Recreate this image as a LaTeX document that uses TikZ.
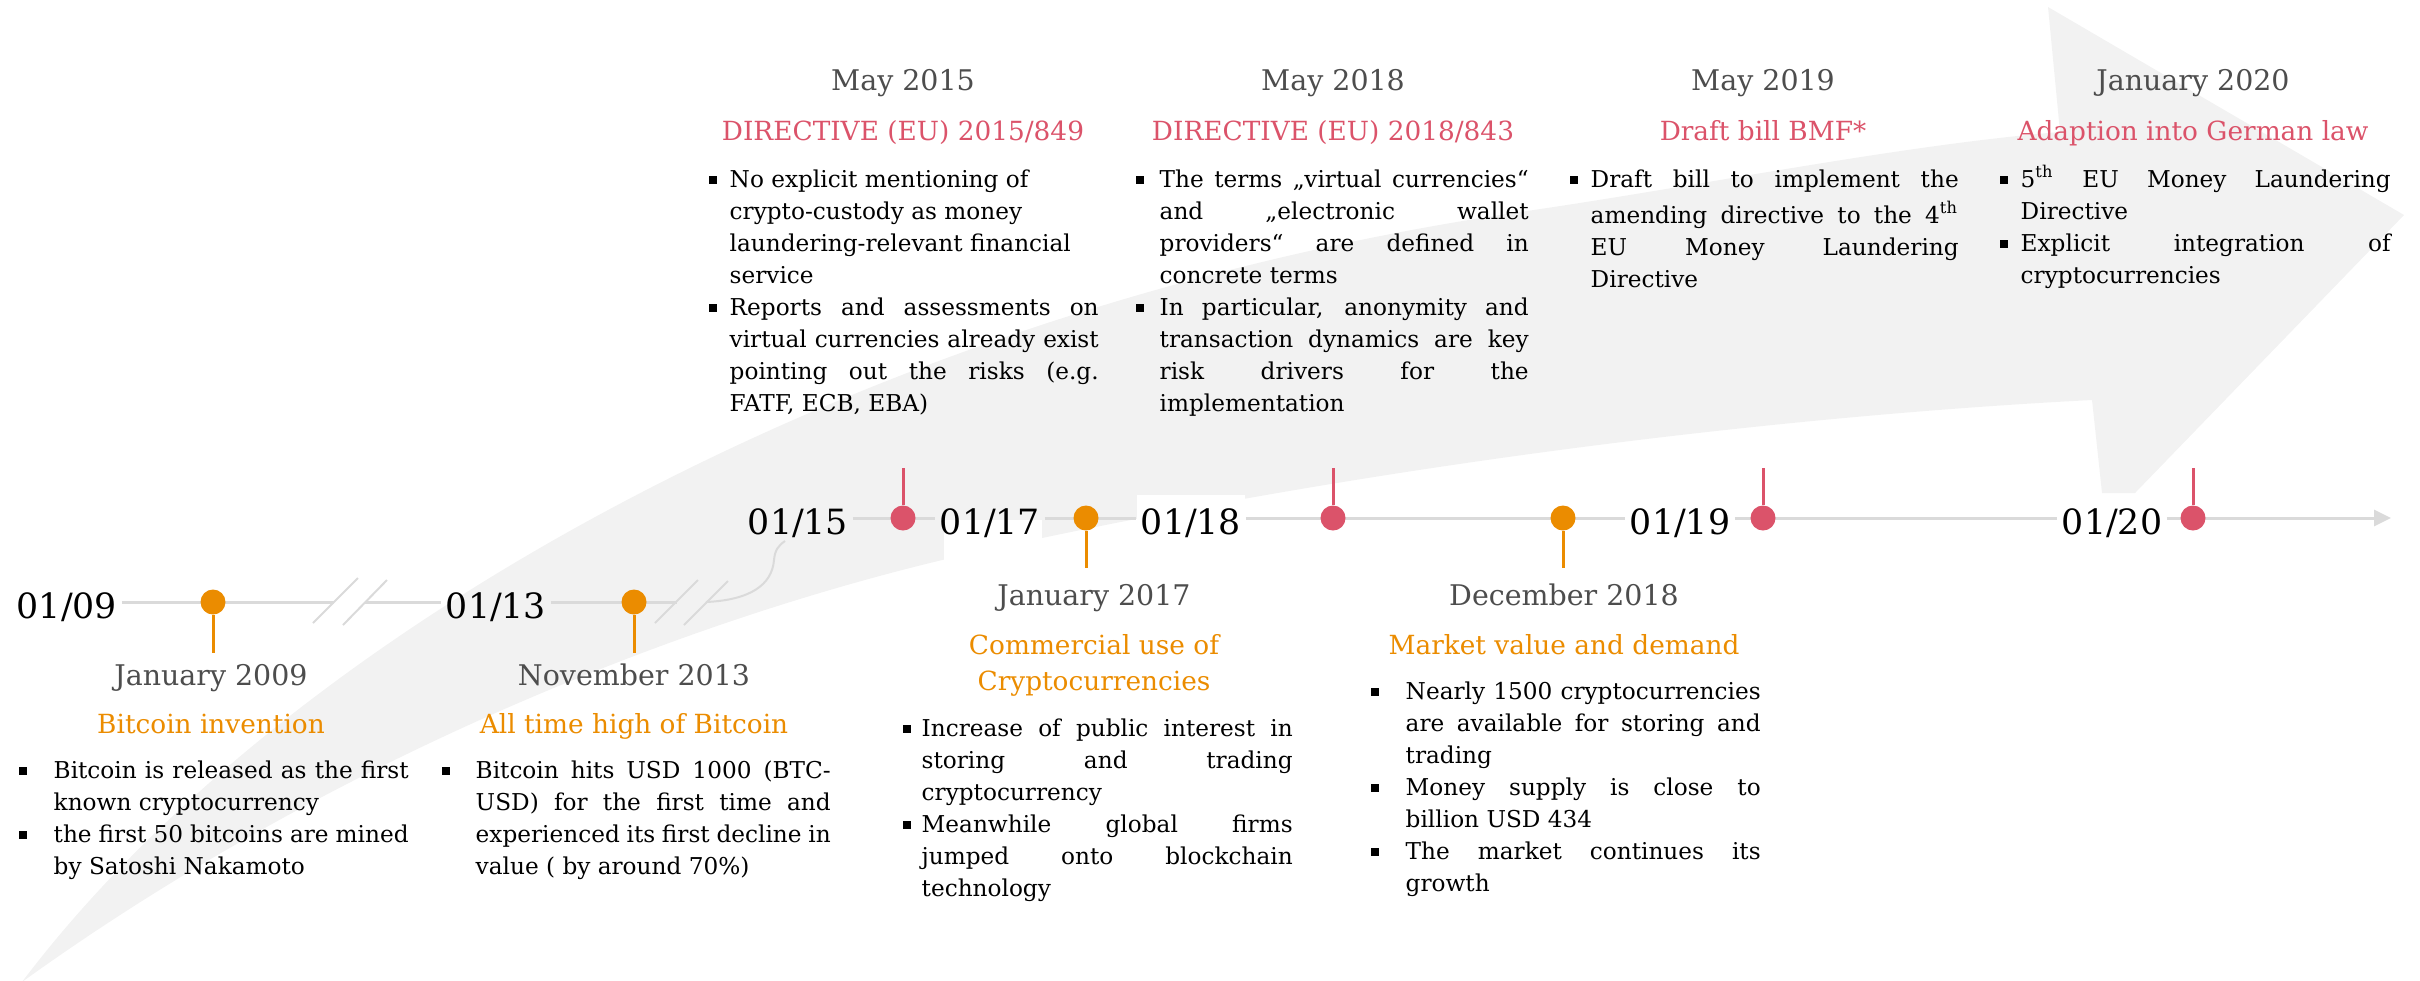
\documentclass[tikz,border=0pt]{standalone}
\usepackage{fontspec}
\setmainfont{DejaVu Serif}
\usetikzlibrary{arrows.meta}

\definecolor{pwcorange}{HTML}{EB8C00}
\definecolor{pwcrose}{HTML}{DB536A}
\definecolor{dategrey}{HTML}{4D4D4D}
\definecolor{axisgrey}{HTML}{DADADA}
\definecolor{sweepgrey}{HTML}{F2F2F2}

% square bullet and one bullet point with hanging indent
\newlength{\factgap}
\newcommand{\sqbullet}{\raisebox{1.1pt}{\rule{2.3pt}{2.3pt}}}
\newcommand{\fact}{\par\noindent\hangindent=\factgap\hangafter=1\makebox[\factgap][l]{\sqbullet}\strut}

\tikzset{
  axis/.style={draw=axisgrey, line width=0.3mm},
  brk/.style={draw=axisgrey, line width=0.2mm},
  yearlbl/.style={font=\fontsize{9.9pt}{12pt}\selectfont, text height=3.9mm, text depth=0.7mm,
    inner xsep=0.4mm, inner ysep=0pt, anchor=center},
  odot/.style={circle, fill=pwcorange, inner sep=0pt, minimum size=2.5mm},
  rdot/.style={circle, fill=pwcrose, inner sep=0pt, minimum size=2.5mm},
  ostem/.style={draw=pwcorange, line width=0.3mm},
  rstem/.style={draw=pwcrose, line width=0.3mm},
  when/.style={anchor=base, text=dategrey, inner sep=0pt, font=\fontsize{8.1pt}{10pt}\selectfont},
  otitle/.style={anchor=base, text=pwcorange, inner sep=0pt, align=center, font=\fontsize{7.5pt}{10.2pt}\selectfont},
  rtitle/.style={otitle, text=pwcrose},
  facts/.style 2 args={anchor=north west, inner sep=0pt, text width=#1, align=justify,
    font=\fontsize{6.6pt}{9.1pt}\selectfont,
    execute at begin node={\setlength{\factgap}{#2}\hyphenpenalty=10000 \tolerance=10000 }}
}

\begin{document}
\begin{tikzpicture}[x=0.1mm, y=-0.1mm]

    \useasboundingbox (0,0) rectangle (2420,980);

    %% Background sweep arrow
    \fill[sweepgrey] (22,982) .. controls (280,640) and (850,310) .. (1520,212)
        .. controls (1700,186) and (1900,145) .. (2060,132)
        -- (2048,7) -- (2404,215) -- (2135,493) -- (2102,493) -- (2092,400)
        .. controls (1800,415) and (1400,460) .. (1000,547)
        .. controls (700,610) and (330,760) .. (22,982) -- cycle;
    \fill[white] (944,520) rectangle (1042,560);

    %% Year labels
    \node[yearlbl] (y09) at (67,602) {01/09};
    \node[yearlbl] (y13) at (496,602) {01/13};
    \node[yearlbl] (y15) at (798,518) {01/15};
    \node[yearlbl] (y17) at (990,518) {01/17};
    \node[yearlbl, fill=white] (y18) at (1191,518) {01/18};
    \node[yearlbl] (y19) at (1680,518) {01/19};
    \node[yearlbl] (y20) at (2112,518) {01/20};

    %% Lower axis with breaks
    \coordinate (cut1) at (334,602);
    \coordinate (cut2) at (365,602);
    \coordinate (cut3) at (677,602);
    \coordinate (cut4) at (706,602);
    \coordinate (up15) at (785,541);
    \draw[axis] (y09) -- (cut1);
    \draw[axis] (cut2) -- (y13);
    \draw[axis] (y13) -- (cut3);
    \draw[brk] (313,623) -- (358,578);
    \draw[brk] (343,625) -- (387,580);
    \draw[brk] (655,623) -- (698,580);
    \draw[brk] (684,625) -- (728,581);
    \draw[brk] (cut4) .. controls (750,600) and (772,585) .. (774,560)
        .. controls (775,550) and (778,546) .. (up15);

    %% Upper axis
    \coordinate (axisend) at (2391,518);
    \draw[axis] (y15) -- (y17);
    \draw[axis] (y17) -- (y18);
    \draw[axis] (y18) -- (y19);
    \draw[axis] (y19) -- (y20);
    \draw[axis, -{Triangle[length=1.7mm, width=1.6mm]}] (y20) -- (axisend);

    %% Event markers
    \node[odot] (djan09) at (213,602) {};
    \node[odot] (dnov13) at (634,602) {};
    \node[rdot] (dmay15) at (903,518) {};
    \node[odot] (djan17) at (1086,518) {};
    \node[rdot] (dmay18) at (1333,518) {};
    \node[odot] (ddec18) at (1563,518) {};
    \node[rdot] (dmay19) at (1763,518) {};
    \node[rdot] (djan20) at (2193,518) {};
    \draw[ostem] (djan09.south) -- ++(0,38);
    \draw[ostem] (dnov13.south) -- ++(0,38);
    \draw[ostem] (djan17.south) -- ++(0,37);
    \draw[ostem] (ddec18.south) -- ++(0,37);
    \draw[rstem] (dmay15.north) -- ++(0,-37);
    \draw[rstem] (dmay18.north) -- ++(0,-37);
    \draw[rstem] (dmay19.north) -- ++(0,-37);
    \draw[rstem] (djan20.north) -- ++(0,-37);

    %% January 2009
    \node[when] (tjan09) at (211,685) {January 2009};
    \node[otitle] (hjan09) at (211,733) {Bitcoin invention};
    \node[facts={39mm}{3.5mm}] (bjan09) at (18,746) {%
        \fact Bitcoin is released as the first\linebreak known cryptocurrency
        \fact the first 50 bitcoins are mined\linebreak by Satoshi Nakamoto\par};

    %% November 2013
    \node[when] (tnov13) at (634,685) {November 2013};
    \node[otitle] (hnov13) at (634,733) {All time high of Bitcoin};
    \node[facts={38.9mm}{3.4mm}] (bnov13) at (441,746) {%
        \fact Bitcoin hits USD 1000 (BTC-\linebreak USD) for the first time and\linebreak
        experienced its first decline in\linebreak value ( by around 70\%)\par};

    %% May 2015
    \node[when] (tmay15) at (903,90) {May 2015};
    \node[rtitle] (hmay15) at (903,140) {DIRECTIVE (EU) 2015/849};
    \node[facts={39mm}{2.1mm}] (bmay15) at (708,155) {%
        {\raggedright\fact No explicit mentioning of\linebreak crypto-custody as money\linebreak
        laundering-relevant financial\linebreak service\par}
        \fact Reports and assessments on\linebreak virtual currencies already exist\linebreak
        pointing out the risks (e.g.\linebreak FATF, ECB, EBA)\par};

    %% January 2017
    \node[when] (tjan17) at (1094,605) {January 2017};
    \node[otitle] (hjan17) at (1094,690) {Commercial use of\\Cryptocurrencies};
    \node[facts={39mm}{1.9mm}] (bjan17) at (902,704) {%
        \fact Increase of public interest in\linebreak storing and trading\linebreak cryptocurrency
        \fact Meanwhile global firms\linebreak jumped onto blockchain\linebreak technology\par};

    %% May 2018
    \node[when] (tmay18) at (1333,90) {May 2018};
    \node[rtitle] (hmay18) at (1333,140) {DIRECTIVE (EU) 2018/843};
    \node[facts={39.3mm}{2.4mm}] (bmay18) at (1135,155) {%
        \fact The terms „virtual currencies“\linebreak and „electronic wallet\linebreak
        providers“ are defined in\linebreak concrete terms
        \fact In particular, anonymity and\linebreak transaction dynamics are key\linebreak
        risk drivers for the\linebreak implementation\par};

    %% December 2018
    \node[when] (tdec18) at (1564,605) {December 2018};
    \node[otitle] (hdec18) at (1564,654) {Market value and demand};
    \node[facts={39mm}{3.5mm}] (bdec18) at (1370,667) {%
        \fact Nearly 1500 cryptocurrencies\linebreak are available for storing and\linebreak trading
        \fact Money supply is close to\linebreak billion USD 434
        \fact The market continues its\linebreak growth\par};

    %% May 2019
    \node[when] (tmay19) at (1763,90) {May 2019};
    \node[rtitle] (hmay19) at (1763,140) {Draft bill BMF*};
    \node[facts={38.9mm}{2.1mm}] (bmay19) at (1569,155) {%
        \fact Draft bill to implement the\linebreak amending directive to the 4\textsuperscript{th}\linebreak
        EU Money Laundering\linebreak Directive\par};

    %% January 2020
    \node[when] (tjan20) at (2193,90) {January 2020};
    \node[rtitle] (hjan20) at (2193,140) {Adaption into German law};
    \node[facts={39.1mm}{2.1mm}] (bjan20) at (1999,155) {%
        \fact 5\textsuperscript{th} EU Money Laundering\linebreak Directive
        \fact Explicit integration of\linebreak cryptocurrencies\par};

\end{tikzpicture}
\end{document}
